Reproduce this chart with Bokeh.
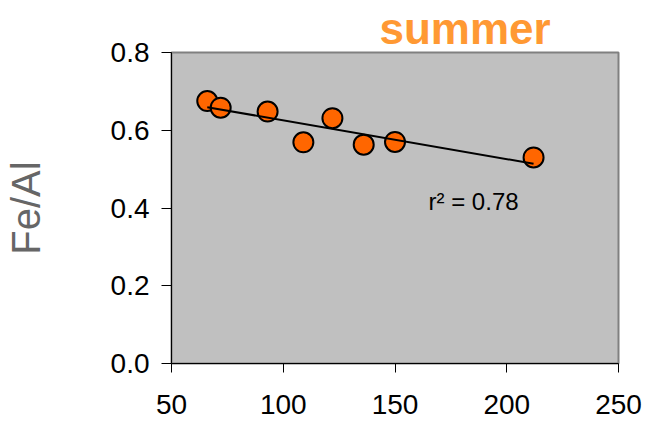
import numpy as np
from bokeh.plotting import figure
from bokeh.models import Range1d, FixedTicker, Label, PrintfTickFormatter, Title
from bokeh.embed import file_html
from bokeh.resources import INLINE

# data
x_vals = [66, 72, 93, 109, 122, 136, 150, 212]
fe_al = [0.675, 0.658, 0.648, 0.569, 0.631, 0.563, 0.570, 0.530]
x_ticks = [50, 100, 150, 200, 250]
y_ticks = [0.0, 0.2, 0.4, 0.6, 0.8]
title_text = "summer"
r2_text = "r\u00b2 = 0.78"

FONT = "Liberation Sans"

p = figure(width=645, height=421, output_backend="svg", toolbar_location=None,
           x_range=Range1d(50, 250), y_range=Range1d(0, 0.8),
           min_border_left=171, min_border_right=27, min_border_top=52, min_border_bottom=58)

title = Title(text=title_text, text_font=FONT, text_font_size="44px", text_font_style="bold",
              text_color="#FF9933", align="left", offset=208, standoff=0)
p.add_layout(title, "above")

p.border_fill_color = "white"
p.background_fill_color = "#C0C0C0"
p.outline_line_color = "#808080"
p.outline_line_width = 2
p.xgrid.visible = False
p.ygrid.visible = False

for ax in (p.xaxis[0], p.yaxis[0]):
    ax.axis_line_color = "black"
    ax.axis_line_width = 1
    ax.major_tick_line_color = "black"
    ax.major_tick_in = 0
    ax.minor_tick_line_color = None
    ax.major_label_text_font = FONT
    ax.major_label_text_font_size = "28px"
    ax.major_label_text_color = "black"

p.xaxis.ticker = FixedTicker(ticks=x_ticks)
p.xaxis.major_tick_out = 9
p.xaxis.major_label_standoff = 22

p.yaxis.ticker = FixedTicker(ticks=y_ticks)
p.yaxis.formatter = PrintfTickFormatter(format="%.1f")
p.yaxis.major_tick_out = 10
p.yaxis.major_label_standoff = 12
p.yaxis.axis_label = "Fe/Al"
p.yaxis.axis_label_text_font = FONT
p.yaxis.axis_label_text_font_size = "40px"
p.yaxis.axis_label_text_font_style = "normal"
p.yaxis.axis_label_text_color = "#666666"
p.yaxis.axis_label_standoff = 60

p.scatter(x_vals, fe_al, size=20, fill_color="#FF6600", line_color="black", line_width=2)

coef = np.polyfit(x_vals, fe_al, 1)
xs = [min(x_vals), max(x_vals)]
p.line(xs, [coef[0] * v + coef[1] for v in xs], line_color="black", line_width=2)

p.add_layout(Label(x=165, y=0.417, text=r2_text, text_font=FONT, text_font_size="24px",
                   text_baseline="middle", text_align="left", text_color="black"))

open("out.html", "w").write(file_html(p, INLINE))
